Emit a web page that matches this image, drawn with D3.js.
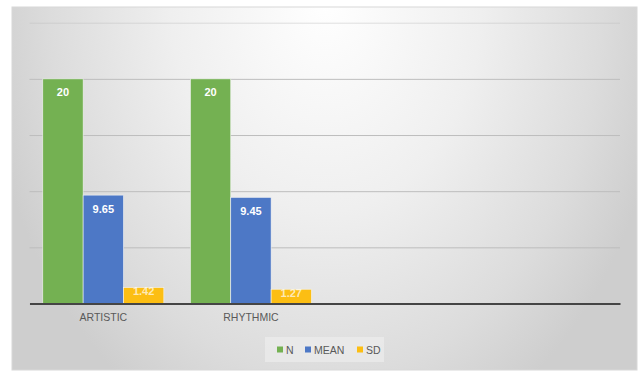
<!DOCTYPE html>
<html>
<head>
<meta charset="utf-8">
<script src="https://cdn.jsdelivr.net/npm/d3@7"></script>
<style>
  html, body { margin: 0; padding: 0; background: #ffffff; }
  svg { display: block; }
  text { font-family: "Liberation Sans", Arial, sans-serif; }
</style>
</head>
<body>
<svg id="chart" width="641" height="372"></svg>
<script>
// Category slots along the x axis (the last two are left empty)
const categories = ["ARTISTIC", "RHYTHMIC", "", ""];
// Series values per category
const seriesNames = ["N", "MEAN", "SD"];
const nValues = [20, 20];
const meanValues = [9.65, 9.45];
const sdValues = [1.42, 1.27];
// Value axis gridline positions
const yTicks = [0, 5, 10, 15, 20, 25];

const seriesValues = [nValues, meanValues, sdValues];
const colors = ["#74b152", "#4d78c6", "#fcbe13"];

const svg = d3.select("#chart");
const W = 641, H = 372;

// Chart area background: soft radial shading, light at top centre
const defs = svg.append("defs");
const grad = defs.append("radialGradient")
  .attr("id", "bg")
  .attr("gradientUnits", "userSpaceOnUse")
  .attr("cx", 0).attr("cy", 0).attr("r", 1)
  .attr("gradientTransform", "translate(326,0) scale(345,470)");
[[0, "#ffffff"], [0.45, "#efefef"], [0.8, "#dcdcdc"], [1, "#cecece"]]
  .forEach(([o, c]) => grad.append("stop").attr("offset", o).attr("stop-color", c));

svg.append("rect")
  .attr("x", 12).attr("y", 7).attr("width", 625).attr("height", 363)
  .attr("fill", "url(#bg)")
  .attr("stroke", "#d8d8d8").attr("stroke-width", 1);

const plot = { left: 29.5, right: 620, top: 22.7, bottom: 303.5 };

const x0 = d3.scaleBand()
  .domain(d3.range(categories.length))
  .range([plot.left, plot.right])
  .paddingInner(0.18)
  .paddingOuter(0.09);

const x1 = d3.scaleBand()
  .domain(d3.range(seriesNames.length))
  .range([0, x0.bandwidth()])
  .padding(0);

const y = d3.scaleLinear()
  .domain([0, 25])
  .range([plot.bottom, plot.top]);

// Horizontal gridlines
const grid = svg.append("g")
  .attr("transform", `translate(${plot.left},0)`)
  .call(d3.axisLeft(y).tickValues(yTicks).tickSize(-(plot.right - plot.left)).tickFormat(""));
grid.select(".domain").remove();
grid.selectAll(".tick line")
  .attr("stroke", "#bdbdbd")
  .attr("stroke-width", 1)
  .attr("stroke-opacity", d => d === 25 ? 0.45 : 1);

// Bars
const groups = svg.append("g").selectAll("g")
  .data(d3.range(nValues.length))
  .join("g")
  .attr("transform", i => `translate(${x0(i)},0)`);

const cells = groups.selectAll("g")
  .data(i => seriesValues.map((vals, s) => ({ s, v: vals[i] })))
  .join("g");

cells.append("rect")
  .attr("x", d => x1(d.s))
  .attr("y", d => y(d.v))
  .attr("width", x1.bandwidth())
  .attr("height", d => y(0) - y(d.v))
  .attr("fill", d => colors[d.s])
  .attr("stroke", "#f4f4f4")
  .attr("stroke-width", 0.6);

// Value labels inside the bar ends
cells.append("text")
  .attr("x", d => x1(d.s) + x1.bandwidth() / 2)
  .attr("y", d => {
    const h = y(0) - y(d.v);
    return h > 30 ? y(d.v) + 17.5 : y(d.v) + 7.5;
  })
  .attr("text-anchor", "middle")
  .attr("font-size", 11)
  .attr("font-weight", "bold")
  .attr("fill", "#ffffff")
  .attr("fill-opacity", d => d.s === 2 ? 0.7 : 1)
  .text(d => d.v);

// Category axis
const xAxis = svg.append("g")
  .attr("transform", `translate(0,${plot.bottom})`)
  .call(d3.axisBottom(x0).tickSize(0).tickPadding(10).tickFormat(i => categories[i]));
xAxis.select(".domain")
  .attr("stroke", "#454545")
  .attr("stroke-width", 2);
xAxis.selectAll("text")
  .attr("font-size", 10.5)
  .attr("fill", "#595959")
  .attr("font-family", "Liberation Sans, Arial, sans-serif");

// Legend
const legend = svg.append("g");
legend.append("rect")
  .attr("x", 265).attr("y", 337).attr("width", 119).attr("height", 25)
  .attr("fill", "#ececec").attr("fill-opacity", 0.7);

const legendX = [277, 305, 357];
const items = legend.selectAll("g")
  .data(seriesNames)
  .join("g")
  .attr("transform", (d, i) => `translate(${legendX[i]},350)`);
items.append("rect")
  .attr("x", 0).attr("y", -3.5).attr("width", 6).attr("height", 6)
  .attr("fill", (d, i) => colors[i]);
items.append("text")
  .attr("x", 9).attr("y", 4)
  .attr("font-size", 10.5)
  .attr("fill", "#595959")
  .text(d => d);
</script>
</body>
</html>
